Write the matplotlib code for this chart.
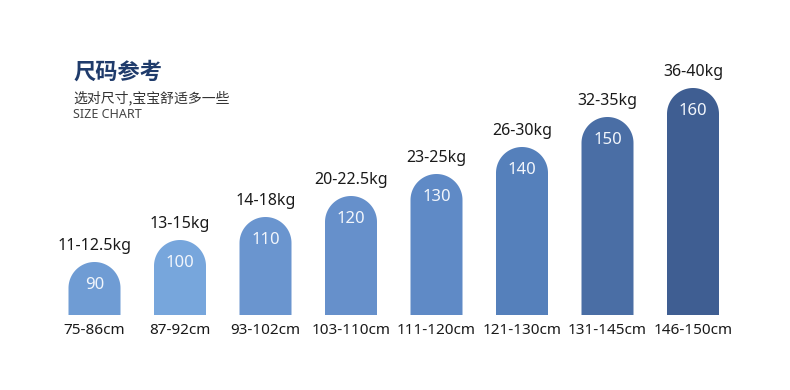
import numpy as np
import matplotlib.pyplot as plt
from matplotlib.patches import Polygon

plt.rcParams['font.family'] = ['Noto Sans CJK SC', 'DejaVu Sans']

# chart data
sizes = ['90', '100', '110', '120', '130', '140', '150', '160']
weights = ['11-12.5kg', '13-15kg', '14-18kg', '20-22.5kg', '23-25kg',
           '26-30kg', '32-35kg', '36-40kg']
heights_cm = ['75-86cm', '87-92cm', '93-102cm', '103-110cm', '111-120cm',
              '121-130cm', '131-145cm', '146-150cm']
bar_heights = [53, 75, 98, 119, 141, 168, 198, 227]
colors = ['#6f9cd4', '#77a6dc', '#6a95cf', '#6690cb', '#5f8ac6',
          '#5580bb', '#4a6ea5', '#3f5e92']

fig = plt.figure(figsize=(7.9, 3.9), dpi=100)
ax = fig.add_axes([0, 0, 1, 1])
ax.set_xlim(0, 790)
ax.set_ylim(0, 390)
ax.axis('off')

base = 75
step = 85.5
x0 = 94.5
w = 52
r = w / 2
theta = np.linspace(0, np.pi, 60)


def pill(x, h):
    # bar with a round top, as one outline
    cy = base + h - r
    arc = np.column_stack([x + r * np.cos(theta), cy + r * np.sin(theta)])
    return np.vstack([[x + r, base], arc, [x - r, base]])


for i, (s, wt, hc, h, c) in enumerate(zip(sizes, weights, heights_cm, bar_heights, colors)):
    x = x0 + i * step
    ax.add_patch(Polygon(pill(x, h), closed=True, facecolor=c, edgecolor='none'))
    top = base + h
    ax.text(x, top - 23, s, ha='center', va='center', fontsize=12,
            color='#f2f6fc', family=['Noto Sans', 'DejaVu Sans'])
    ax.text(x, top + 8, wt, ha='center', va='bottom', fontsize=11.5,
            color='#1a1a1a', family=['Noto Sans', 'DejaVu Sans'])
    ax.text(x, base - 15, hc, ha='center', va='center', fontsize=11,
            color='#1a1a1a', family=['Noto Sans', 'DejaVu Sans'])

ax.text(73, 318, '尺码参考', ha='left', va='center', fontsize=16,
        fontweight='bold', color='#1f3b6b')
ax.text(73, 292, '选对尺寸,宝宝舒适多一些', ha='left', va='center', fontsize=10,
        color='#333333')
ax.text(73, 276, 'SIZE CHART', ha='left', va='center', fontsize=9,
        color='#444444', family=['Noto Sans', 'DejaVu Sans'])

fig.savefig('out.png', dpi=100, facecolor='white')
